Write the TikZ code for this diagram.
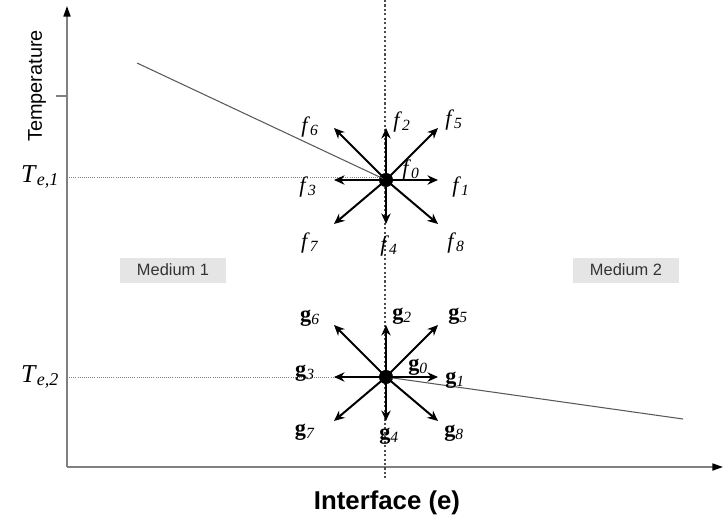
\documentclass[tikz,border=0pt]{standalone}
\usepackage{fontspec}
\setmainfont{Liberation Serif}
\newfontfamily\arialfont{Liberation Sans}
\usetikzlibrary{arrows.meta}

\newcommand{\flab}[1]{\textit{f}\textsubscript{\textit{#1}}}
\newcommand{\glab}[1]{\textbf{g}\textsubscript{\textit{#1}}}

\tikzset{
  axis/.style={gray, line width=1.3pt, -{Triangle[length=9pt,width=6pt,black]}},
  guide/.style={gray, densely dotted, line width=0.8pt},
  profile/.style={black!65, line width=0.9pt},
  vel/.style={black, line width=1.7pt, -{Stealth[length=9pt,width=8pt]}},
  dot/.style={circle, fill=black, inner sep=0pt, minimum size=12pt},
  medium/.style={fill=black!10, text=black!80, minimum width=3.2cm, minimum height=0.75cm,
    font=\arialfont\fontsize{14}{14}\selectfont},
  lbl/.style={font=\fontsize{19}{19}\selectfont, inner sep=0pt}
}

\begin{document}
\begin{tikzpicture}[x=0.03cm, y=-0.03cm, line join=round]
  \useasboundingbox (0,0) rectangle (723,521);
  % axes
  \draw[axis] (67,467) -- (67,6);
  \draw[axis] (67,467) -- (723,467);
  \draw[gray, line width=1pt] (56,96) -- (67,96);
  % interface
  \draw[black!70, dotted, line width=1.8pt] (385,0) -- (385,478);
  % guide lines
  \draw[guide] (67,177) -- (385,177);
  \draw[guide] (67,377) -- (385,377);
  % nodes
  \node[dot] (fc) at (386,180) {};
  \node[dot] (gc) at (386,377) {};
  % temperature profiles
  \draw[profile] (137,63) -- (fc.center);
  \draw[profile] (gc.center) -- (683,419);
  % velocity arrows
  \foreach \dx/\dy in {52/0, 0/-52, -52/0, 0/44, 52/-52, -52/-52, -52/44, 52/44} {
    \draw[vel] (fc.center) -- ++(\dx,\dy);
    \draw[vel] (gc.center) -- ++(\dx,\dy);
  }
  % f labels
  \node[lbl] (f0) at (411,170) {\flab{0}};
  \node[lbl] (f1) at (461,187) {\flab{1}};
  \node[lbl] (f2) at (402,122) {\flab{2}};
  \node[lbl] (f3) at (308,187) {\flab{3}};
  \node[lbl] (f4) at (389,246) {\flab{4}};
  \node[lbl] (f5) at (454,120) {\flab{5}};
  \node[lbl] (f6) at (310,127) {\flab{6}};
  \node[lbl] (f7) at (310,243) {\flab{7}};
  \node[lbl] (f8) at (456,243) {\flab{8}};
  % g labels
  \node[lbl] (g0) at (418,367) {\glab{0}};
  \node[lbl] (g1) at (455,380) {\glab{1}};
  \node[lbl] (g2) at (402,316) {\glab{2}};
  \node[lbl] (g3) at (305,373) {\glab{3}};
  \node[lbl] (g4) at (389,436) {\glab{4}};
  \node[lbl] (g5) at (458,316) {\glab{5}};
  \node[lbl] (g6) at (310,318) {\glab{6}};
  \node[lbl] (g7) at (305,432) {\glab{7}};
  \node[lbl] (g8) at (454,433) {\glab{8}};
  % axis labels
  \node[rotate=90, font=\arialfont\fontsize{17}{17}\selectfont] (temp) at (37,86) {Temperature};
  \node[font=\fontsize{22}{22}\selectfont] (te1) at (40,177) {\textit{T}\textsubscript{\textit{e,1}}};
  \node[font=\fontsize{22}{22}\selectfont] (te2) at (40,377) {\textit{T}\textsubscript{\textit{e,2}}};
  \node[font=\arialfont\bfseries\fontsize{22}{22}\selectfont] (iface) at (387,503) {Interface (e)};
  % media
  \node[medium] (m1) at (173,270) {Medium 1};
  \node[medium] (m2) at (626,270) {Medium 2};
\end{tikzpicture}
\end{document}
